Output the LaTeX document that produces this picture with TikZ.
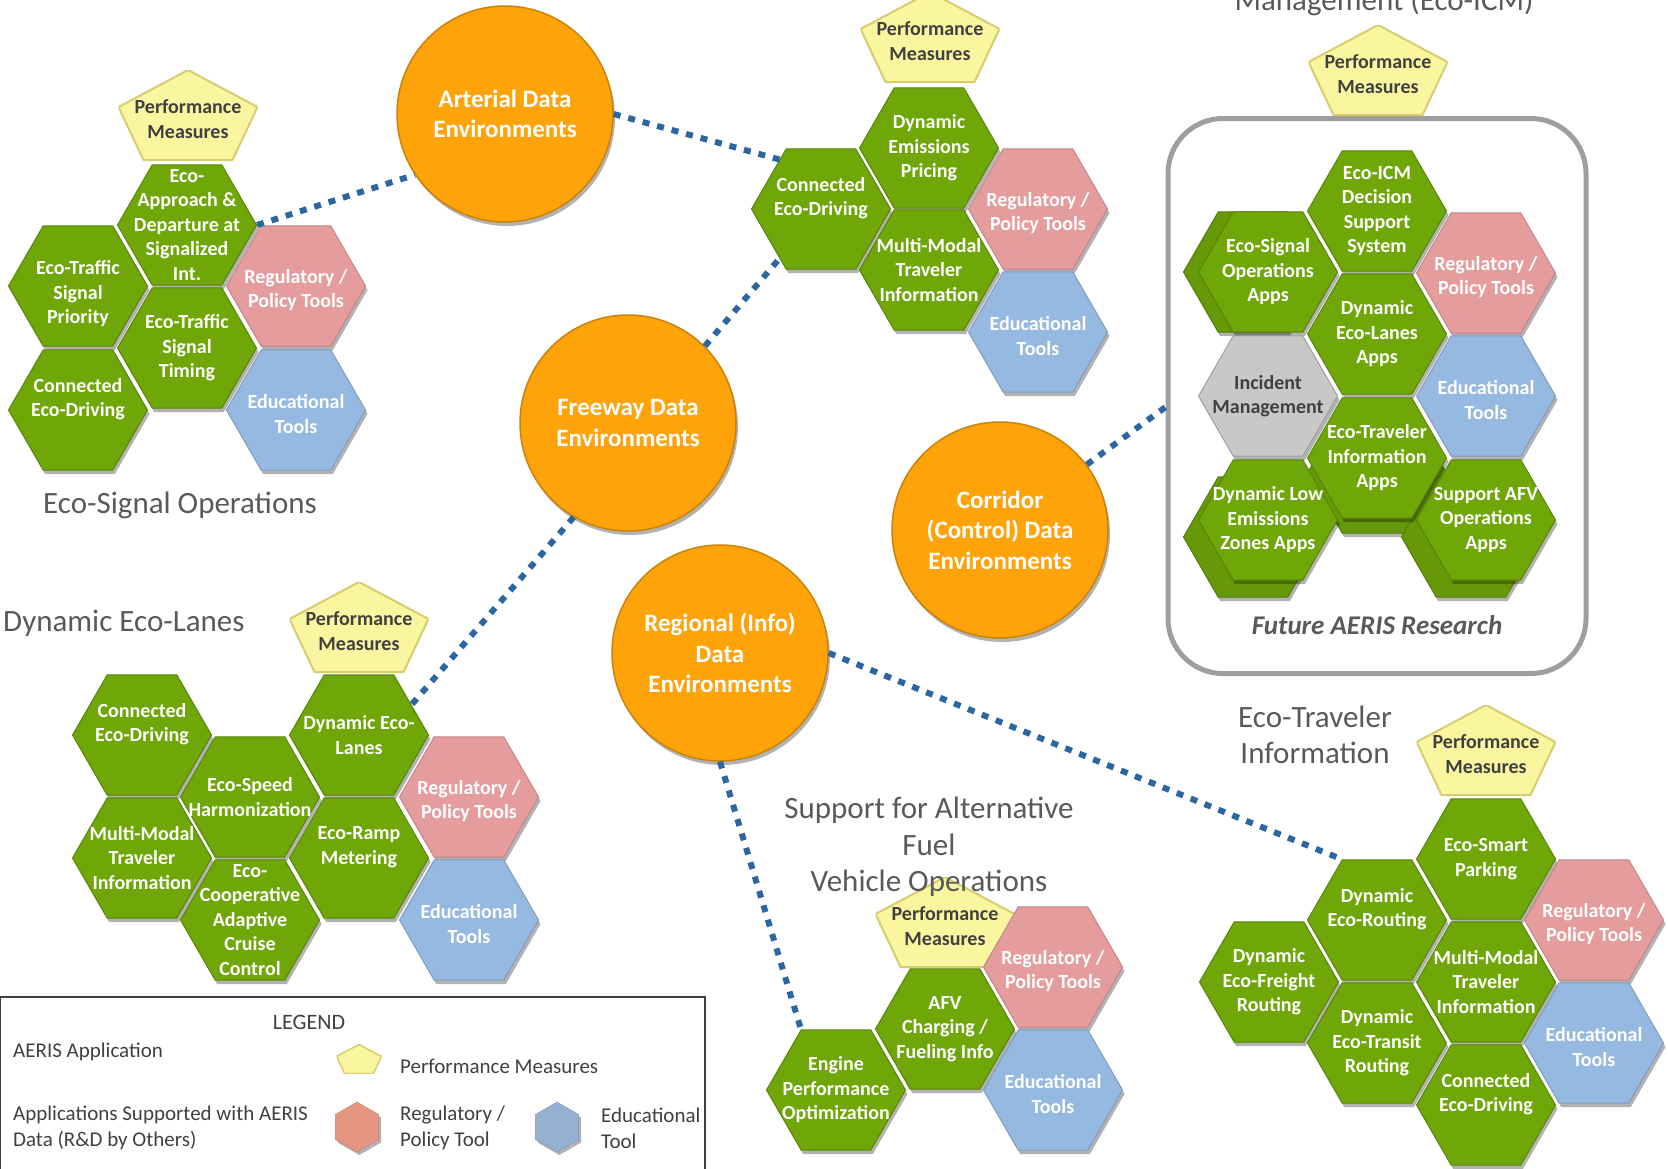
\documentclass[tikz,border=0pt]{standalone}
\usepackage{fontspec}
\setmainfont{Carlito}
\usetikzlibrary{shapes.geometric, shadows, calc}

\definecolor{appgreen}{RGB}{111,166,8}
\definecolor{regpink}{RGB}{229,156,156}
\definecolor{edublue}{RGB}{150,185,225}
\definecolor{pmyellow}{RGB}{250,246,160}
\definecolor{pmedge}{RGB}{215,205,110}
\definecolor{incgray}{RGB}{200,200,200}
\definecolor{envorange}{RGB}{255,163,10}
\definecolor{linkblue}{RGB}{43,102,160}
\definecolor{titlegray}{RGB}{89,89,89}
\definecolor{txtdark}{RGB}{64,64,64}
\definecolor{legred}{RGB}{228,150,128}
\definecolor{legblue}{RGB}{150,176,210}

\begin{document}
\begin{tikzpicture}[
    x=1pt, y=-1pt,
    hexa/.style={regular polygon, regular polygon sides=6, minimum size=139pt, inner sep=0pt, line width=1pt,
        drop shadow={shadow xshift=2pt, shadow yshift=-4pt, opacity=.3, fill=black}},
    celltxt/.style={align=center, text=white, inner sep=0pt, font=\fontsize{20}{24.5}\selectfont\bfseries},
    greencell/.style={hexa, fill=appgreen, draw=appgreen!80!black},
    app/.style={greencell, label={[celltxt]center:#1}},
    apphi/.style={greencell, label={[celltxt, yshift=11pt]center:#1}},
    applo/.style={greencell, label={[celltxt, yshift=-8pt]center:#1}},
    appback/.style={hexa, fill=appgreen!92!black, draw=appgreen!75!black},
    incapp/.style={hexa, fill=incgray, draw=incgray!80!black, label={[celltxt, text=txtdark]center:#1}},
    regtool/.style={hexa, fill=regpink, draw=regpink!85!black,
        label={[celltxt, yshift=-4pt]center:Regulatory /\\Policy Tools}},
    edutool/.style={hexa, fill=edublue, draw=edublue!85!black,
        label={[celltxt, yshift=-4pt]center:Educational\\Tools}},
    % pentagon 139 x 90, text sits a little below the middle
    perf/.style={minimum width=139pt, minimum height=98pt, inner sep=0pt, align=center, text=txtdark,
        font=\fontsize{20}{24.5}\selectfont\bfseries,
        path picture={\filldraw[fill=pmyellow, draw=pmedge, line width=2pt]
            (path picture bounding box.north)
            -- ([yshift=-37pt]path picture bounding box.north west)
            -- ([xshift=25pt, yshift=8pt]path picture bounding box.south west)
            -- ([xshift=-25pt, yshift=8pt]path picture bounding box.south east)
            -- ([yshift=-37pt]path picture bounding box.north east)
            -- cycle;}},
    legperf/.style={minimum width=45pt, minimum height=29pt, inner sep=0pt,
        path picture={\filldraw[fill=pmyellow, draw=pmedge, line width=1.5pt]
            (path picture bounding box.north)
            -- ($(path picture bounding box.north west)!.41!(path picture bounding box.south west)$)
            -- ($(path picture bounding box.south west)!.18!(path picture bounding box.south east)$)
            -- ($(path picture bounding box.south east)!.18!(path picture bounding box.south west)$)
            -- ($(path picture bounding box.north east)!.41!(path picture bounding box.south east)$)
            -- cycle;}},
    legcell/.style={regular polygon, regular polygon sides=6, shape border rotate=30, minimum size=50pt,
        drop shadow={shadow yshift=-3pt, opacity=.3, fill=black}},
    dataenv/.style={circle, minimum size=216pt, inner sep=0pt, fill=envorange, draw=envorange!80!black,
        line width=1.5pt, align=center, text=white, font=\fontsize{25}{30.5}\selectfont\bfseries,
        drop shadow={shadow xshift=2pt, shadow yshift=-4pt, opacity=.3, fill=black}},
    datalink/.style={draw=linkblue, line width=6pt, dash pattern=on 7pt off 8pt},
    grouptitle/.style={align=center, text=titlegray, font=\fontsize{31}{36.5}\selectfont},
    legtxt/.style={align=left, anchor=west, inner sep=0pt, text=txtdark, font=\fontsize{21}{26}\selectfont}
]

    \useasboundingbox (0,0) rectangle (1668,1168);
    \clip (0,0) rectangle (1668,1168);

    % --- Data environments ---
    \node[dataenv] (art) at (505,114) {Arterial Data\\Environments};
    \node[dataenv] (fwy) at (628,423) {Freeway Data\\Environments};
    \node[dataenv] (cor) at (1000,530) {Corridor\\(Control) Data\\Environments};
    \node[dataenv] (rgn) at (720,653) {Regional (Info)\\Data\\Environments};

    % ==================================================
    % Eco-Signal Operations
    % ==================================================
    \node[perf] (esPM) at (188,119) {Performance\\Measures};
    \node[app={Eco-\\Approach \&\\Departure at\\Signalized\\Int.}] (esA) at (187,225) {};
    \node[app={Eco-Traffic\\Signal\\Timing}] (esB) at (187,348) {};
    \node[applo={Eco-Traffic\\Signal\\Priority}] (esC) at (78,286) {};
    \node[apphi={Connected\\Eco-Driving}] (esD) at (78,410) {};
    \node[regtool] (esReg) at (296,286) {};
    \node[edutool] (esEdu) at (296,410) {};
    \node[grouptitle] (esTitle) at (180,505) {Eco-Signal Operations};

    % ==================================================
    % Arterial group (top middle)
    % ==================================================
    \node[perf] (tmPM) at (930,41) {Performance\\Measures};
    \node[app={Dynamic\\Emissions\\Pricing}] (tmDEP) at (929,148) {};
    \node[apphi={Connected\\Eco-Driving}] (tmCED) at (821,209) {};
    \node[app={Multi-Modal\\Traveler\\Information}] (tmMMT) at (929,270) {};
    \node[regtool] (tmReg) at (1038,209) {};
    \node[edutool] (tmEdu) at (1038,332) {};

    % ==================================================
    % Eco-ICM (future research)
    % ==================================================
    \node[grouptitle, anchor=base] (icmTitle) at (1384,10) {Management (Eco-ICM)};
    \node[draw=black!38, line width=5pt, rounded corners=55pt, minimum width=418pt, minimum height=555pt]
        (icmBox) at (1377,396) {};
    \node[perf] (icmPM) at (1378,74) {Performance\\Measures};

    % stacked hexagons behind
    \node[appback] (icmESOb) at (1253,272) {};
    \node[appback] (icmDLEb) at (1253,537) {};
    \node[appback] (icmETIb) at (1377,473) {};
    \node[appback] (icmAFVb) at (1471,537) {};

    \node[app={Eco-ICM\\Decision\\Support\\System}] (icmDSS) at (1377,211) {};
    \node[app={Eco-Signal\\Operations\\Apps}] (icmESO) at (1268,272) {};
    \node[app={Dynamic\\Eco-Lanes\\Apps}] (icmDEL) at (1377,334) {};
    \node[incapp={Incident\\Management}] (icmInc) at (1268,396) {};
    \node[app={Eco-Traveler\\Information\\Apps}] (icmETI) at (1377,458) {};
    \node[app={Dynamic Low\\Emissions\\Zones Apps}] (icmDLE) at (1268,520) {};
    \node[regtool] (icmReg) at (1486,273) {};
    \node[edutool] (icmEdu) at (1486,396) {};
    \node[app={Support AFV\\Operations\\Apps}] (icmAFV) at (1486,520) {};
    \node[text=titlegray, font=\fontsize{27}{32}\selectfont\bfseries\itshape] (icmNote) at (1377,625) {Future AERIS Research};

    % ==================================================
    % Dynamic Eco-Lanes
    % ==================================================
    \node[grouptitle, anchor=west, inner sep=0pt] (elTitle) at (3,623) {Dynamic Eco-Lanes};
    \node[perf] (elPM) at (359,631) {Performance\\Measures};
    \node[apphi={Connected\\Eco-Driving}] (elCED) at (142,735) {};
    \node[app={Dynamic Eco-\\Lanes}] (elDEL) at (359,735) {};
    \node[app={Eco-Speed\\Harmonization}] (elESH) at (250,797) {};
    \node[app={Multi-Modal\\Traveler\\Information}] (elMMT) at (142,858) {};
    \node[apphi={Eco-Ramp\\Metering}] (elERM) at (359,858) {};
    \node[app={Eco-\\Cooperative\\Adaptive\\Cruise\\Control}] (elCACC) at (250,920) {};
    \node[regtool] (elReg) at (469,797) {};
    \node[edutool] (elEdu) at (469,920) {};

    % ==================================================
    % Support for Alternative Fuel Vehicle Operations
    % ==================================================
    \node[perf] (svPM) at (945,926) {Performance\\Measures};
    \node[app={AFV\\Charging /\\Fueling Info}] (svAFV) at (945,1029) {};
    \node[app={Engine\\Performance\\Optimization}] (svEPO) at (836,1090) {};
    \node[regtool] (svReg) at (1053,967) {};
    \node[edutool] (svEdu) at (1053,1090) {};
    \node[grouptitle] (svTitle) at (929,847) {Support for Alternative\\Fuel\\Vehicle Operations};

    % ==================================================
    % Eco-Traveler Information
    % ==================================================
    \node[grouptitle] (etTitle) at (1315,735) {Eco-Traveler\\Information};
    \node[perf] (etPM) at (1486,754) {Performance\\Measures};
    \node[app={Eco-Smart\\Parking}] (etESP) at (1486,859) {};
    \node[apphi={Dynamic\\Eco-Routing}] (etDER) at (1377,920) {};
    \node[app={Dynamic\\Eco-Freight\\Routing}] (etDEF) at (1269,982) {};
    \node[app={Multi-Modal\\Traveler\\Information}] (etMMT) at (1486,982) {};
    \node[app={Dynamic\\Eco-Transit\\Routing}] (etDET) at (1377,1043) {};
    \node[apphi={Connected\\Eco-Driving}] (etCED) at (1486,1105) {};
    \node[regtool] (etReg) at (1594,920) {};
    \node[edutool] (etEdu) at (1594,1043) {};

    % --- Links between data environments and applications ---
    \draw[datalink] (esA.east) -- (art.214);
    \draw[datalink] (art.east) -- (tmCED.130);
    \draw[datalink] (fwy.45) -- (tmCED.230);
    \draw[datalink] (fwy.240) -- (elDEL.30);
    \draw[datalink] (cor.37) -- (icmBox.183);
    \draw[datalink] (rgn.south) -- (svEPO.120);
    \draw[datalink] (rgn.east) -- (etDER.120);

    % --- Legend ---
    \node[draw=txtdark, line width=2pt, minimum width=705pt, minimum height=193pt] (legBox) at (352,1093) {};
    \node[text=txtdark, font=\fontsize{22}{26}\selectfont] (legTitle) at (309,1022) {LEGEND};
    \node[legtxt] (legApp) at (13,1052) {AERIS Application};
    \node[legtxt] (legOther) at (13,1128) {Applications Supported with AERIS\\Data (R\&D by Others)};
    \node[legperf] (legPM) at (359,1059) {};
    \node[legtxt] (legPMtxt) at (400,1066) {Performance Measures};
    \node[legcell, fill=legred, draw=legred!85!black] (legReg) at (357,1127) {};
    \node[legtxt] (legRegtxt) at (400,1128) {Regulatory /\\Policy Tool};
    \node[legcell, fill=legblue, draw=legblue!85!black] (legEdu) at (557,1127) {};
    \node[legtxt] (legEdutxt) at (601,1128) {Educational\\Tool};

\end{tikzpicture}
\end{document}
